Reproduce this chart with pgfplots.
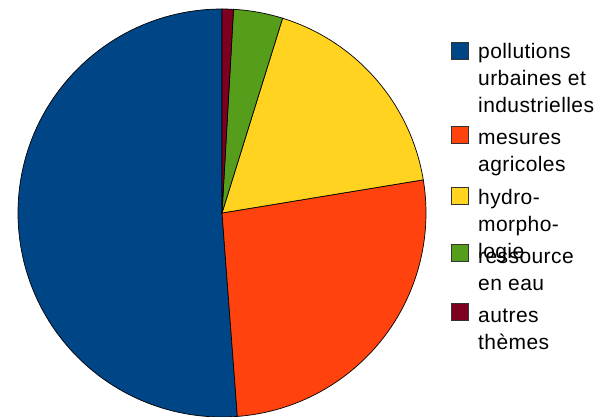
\documentclass[border=0pt]{standalone}
\usepackage{pgfplots}
\pgfplotsset{compat=1.18}
\usepackage{pgfplotstable}
\usepackage{fontspec}
\setmainfont{Liberation Sans}[LetterSpace=2.0]

\definecolor{c1}{HTML}{004586}
\definecolor{c2}{HTML}{FF420E}
\definecolor{c3}{HTML}{FFD320}
\definecolor{c4}{HTML}{579D1C}
\definecolor{c5}{HTML}{7E0021}

% parts in percent, counter-clockwise from the top
\pgfplotstableread{
theme share
pollutions 51.2
mesures 26.4
hydro 17.6
ressource 3.9
autres 0.9
}\piedata

\newcommand\slice[3]{%
  \filldraw[fill=#3, draw=black, line width=0.7pt, line join=round]
    (axis cs:222,203) -- ++(#1:204pt) arc[start angle=#1, end angle=#2, radius=204pt] -- cycle;}
\newcommand\legsq[2]{%
  \filldraw[fill=#2, draw=black!80, line width=0.6pt] (axis cs:451,416-#1) rectangle (axis cs:468,399-#1);}
\newcommand\legtx[2]{%
  \node[anchor=base west, inner sep=0pt, font=\fontsize{21}{25}\selectfont] at (axis cs:478,416-#1) {#2};}

\begin{document}
\begin{tikzpicture}
\pgfplotstablegetelem{0}{share}\of\piedata \pgfmathsetmacro\aB{90+3.6*\pgfplotsretval}
\pgfplotstablegetelem{1}{share}\of\piedata \pgfmathsetmacro\aC{\aB+3.6*\pgfplotsretval}
\pgfplotstablegetelem{2}{share}\of\piedata \pgfmathsetmacro\aD{\aC+3.6*\pgfplotsretval}
\pgfplotstablegetelem{3}{share}\of\piedata \pgfmathsetmacro\aE{\aD+3.6*\pgfplotsretval}
\pgfplotstablegetelem{4}{share}\of\piedata \pgfmathsetmacro\aF{\aE+3.6*\pgfplotsretval}
\begin{axis}[name=ax, x=1pt, y=1pt, xmin=0, xmax=599, ymin=0, ymax=416,
    hide axis, clip=false]
  \slice{90}{\aB}{c1}
  \slice{\aB}{\aC}{c2}
  \slice{\aC}{\aD}{c3}
  \slice{\aD}{\aE}{c4}
  \slice{\aE}{\aF}{c5}
  \legsq{42}{c1}
  \legsq{126}{c2}
  \legsq{187}{c3}
  \legsq{244}{c4}
  \legsq{303}{c5}
  \legtx{59}{pollutions}
  \legtx{86}{urbaines et}
  \legtx{113}{industrielles}
  \legtx{144}{mesures}
  \legtx{171}{agricoles}
  \legtx{204}{hydro-}
  \legtx{231}{morpho-}
  \legtx{258}{logie}
  \legtx{263}{ressource}
  \legtx{290}{en eau}
  \legtx{322}{autres}
  \legtx{349}{thèmes}
\end{axis}
\pgfresetboundingbox
\useasboundingbox (ax.south west) rectangle (ax.north east);
\end{tikzpicture}
\end{document}
